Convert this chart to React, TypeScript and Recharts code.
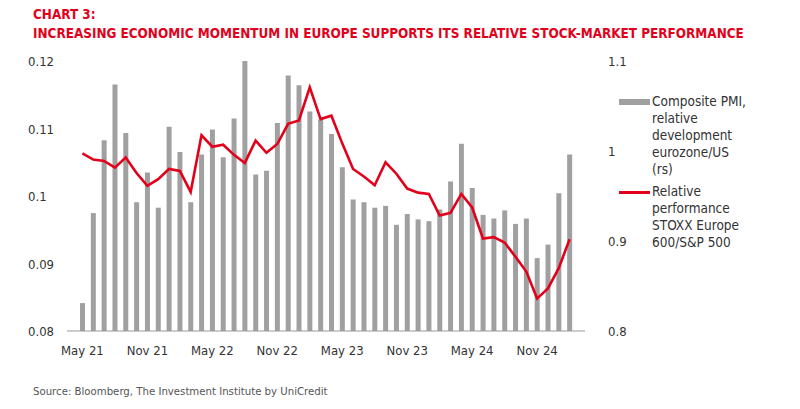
import { ComposedChart, Bar, Line, XAxis, YAxis } from 'recharts';

const months = [
  'May 21', 'Jun 21', 'Jul 21', 'Aug 21', 'Sep 21', 'Oct 21', 'Nov 21', 'Dec 21',
  'Jan 22', 'Feb 22', 'Mar 22', 'Apr 22', 'May 22', 'Jun 22', 'Jul 22', 'Aug 22',
  'Sep 22', 'Oct 22', 'Nov 22', 'Dec 22', 'Jan 23', 'Feb 23', 'Mar 23', 'Apr 23',
  'May 23', 'Jun 23', 'Jul 23', 'Aug 23', 'Sep 23', 'Oct 23', 'Nov 23', 'Dec 23',
  'Jan 24', 'Feb 24', 'Mar 24', 'Apr 24', 'May 24', 'Jun 24', 'Jul 24', 'Aug 24',
  'Sep 24', 'Oct 24', 'Nov 24', 'Dec 24', 'Jan 25', 'Feb 25',
];

// composite PMI ratio eurozone/US (right scale)
const pmiRatio = [
  0.831, 0.931, 1.012, 1.074, 1.02, 0.943, 0.976, 0.937,
  1.027, 0.999, 0.943, 0.996, 1.024, 0.993, 1.036, 1.1,
  0.974, 0.978, 1.031, 1.084, 1.073, 1.044, 1.035, 1.019,
  0.982, 0.946, 0.943, 0.937, 0.939, 0.918, 0.93, 0.924,
  0.922, 0.935, 0.966, 1.008, 0.959, 0.929, 0.925, 0.934,
  0.919, 0.925, 0.881, 0.896, 0.953, 0.996,
];

// STOXX Europe 600 / S&P 500 (left scale)
const relPerf = [
  0.1063, 0.1054, 0.1052, 0.1042, 0.1057, 0.1034, 0.1015, 0.1025,
  0.104, 0.1037, 0.1006, 0.109, 0.1073, 0.1076, 0.1061, 0.1049,
  0.1082, 0.1064, 0.1077, 0.1107, 0.1112, 0.1161, 0.1114, 0.1119,
  0.1078, 0.104, 0.1029, 0.1016, 0.105, 0.1033, 0.1011, 0.1005,
  0.1003, 0.0971, 0.0975, 0.1003, 0.0983, 0.0937, 0.0939, 0.0931,
  0.091, 0.0888, 0.0848, 0.0863, 0.0893, 0.0936,
];

const xTicks = ['May 21', 'Nov 21', 'May 22', 'Nov 22', 'May 23', 'Nov 23', 'May 24', 'Nov 24'];
const leftTicks = [0.08, 0.09, 0.1, 0.11, 0.12];
const rightTicks = [0.8, 0.9, 1, 1.1];

const data = months.map((m, i) => ({ month: m, pmi: pmiRatio[i], perf: relPerf[i] }));

const RED = '#e2001a';
const GREY = '#a0a0a0';
const FONT = '"DejaVu Sans Condensed", "Liberation Sans Narrow", sans-serif';

const LeftTick = (props: any) => (
  <text x={props.x - 31} y={props.y} dy={5} textAnchor="start" fontSize={13} fill="#333" fontFamily={FONT}>
    {String(props.payload.value)}
  </text>
);

const RightTick = (props: any) => (
  <text x={props.x + 15} y={props.y} dy={5} textAnchor="start" fontSize={13} fill="#333" fontFamily={FONT}>
    {String(props.payload.value)}
  </text>
);

function LegendBox() {
  const text = { fontSize: 13.5, lineHeight: '17px', color: '#333', fontFamily: FONT };
  return (
    <div style={{ position: 'absolute', left: 619, top: 93, width: 170 }}>
      <div style={{ display: 'flex', alignItems: 'flex-start' }}>
        <div style={{ width: 31, height: 6, background: GREY, marginTop: 6, marginRight: 2, flexShrink: 0 }} />
        <div style={text}>Composite PMI,<br />relative<br />development<br />eurozone/US<br />(rs)</div>
      </div>
      <div style={{ display: 'flex', alignItems: 'flex-start', marginTop: 5 }}>
        <div style={{ width: 31, height: 3, background: RED, marginTop: 8, marginRight: 2, flexShrink: 0 }} />
        <div style={text}>Relative<br />performance<br />STOXX Europe<br />600/S&amp;P 500</div>
      </div>
    </div>
  );
}

export default function App() {
  return (
    <div style={{ position: 'absolute', left: 0, top: 0, width: 800, height: 409, background: '#fff' }}>
      <div style={{ position: 'absolute', left: 33, top: 5, color: RED, fontFamily: FONT, fontWeight: 'bold', fontSize: 13.4, lineHeight: '19px', whiteSpace: 'nowrap' }}>
        CHART 3:<br />INCREASING ECONOMIC MOMENTUM IN EUROPE SUPPORTS ITS RELATIVE STOCK-MARKET PERFORMANCE
      </div>
      <ComposedChart width={800} height={409} data={data} margin={{ top: 61, right: 185, bottom: 48, left: 36 }}>
        <XAxis
          dataKey="month"
          ticks={xTicks}
          interval={0}
          tickLine={false}
          axisLine={{ stroke: '#999' }}
          padding={{ left: 10, right: 10 }}
          tick={{ fontSize: 13, fill: '#333', fontFamily: FONT }}
          tickMargin={9}
        />
        <YAxis
          yAxisId="left"
          orientation="left"
          width={31}
          domain={[0.08, 0.12]}
          ticks={leftTicks}
          axisLine={false}
          tickLine={false}
          tick={<LeftTick />}
        />
        <YAxis
          yAxisId="right"
          orientation="right"
          width={30}
          domain={[0.8, 1.1]}
          ticks={rightTicks}
          axisLine={false}
          tickLine={false}
          tick={<RightTick />}
        />
        <Bar yAxisId="right" dataKey="pmi" fill={GREY} barSize={5} isAnimationActive={false} />
        <Line
          yAxisId="left"
          dataKey="perf"
          stroke={RED}
          strokeWidth={2.6}
          dot={false}
          type="linear"
          isAnimationActive={false}
        />
      </ComposedChart>
      <LegendBox />
      <div style={{ position: 'absolute', left: 33, top: 385, color: '#555', fontFamily: FONT, fontSize: 11.3 }}>
        Source: Bloomberg, The Investment Institute by UniCredit
      </div>
    </div>
  );
}
